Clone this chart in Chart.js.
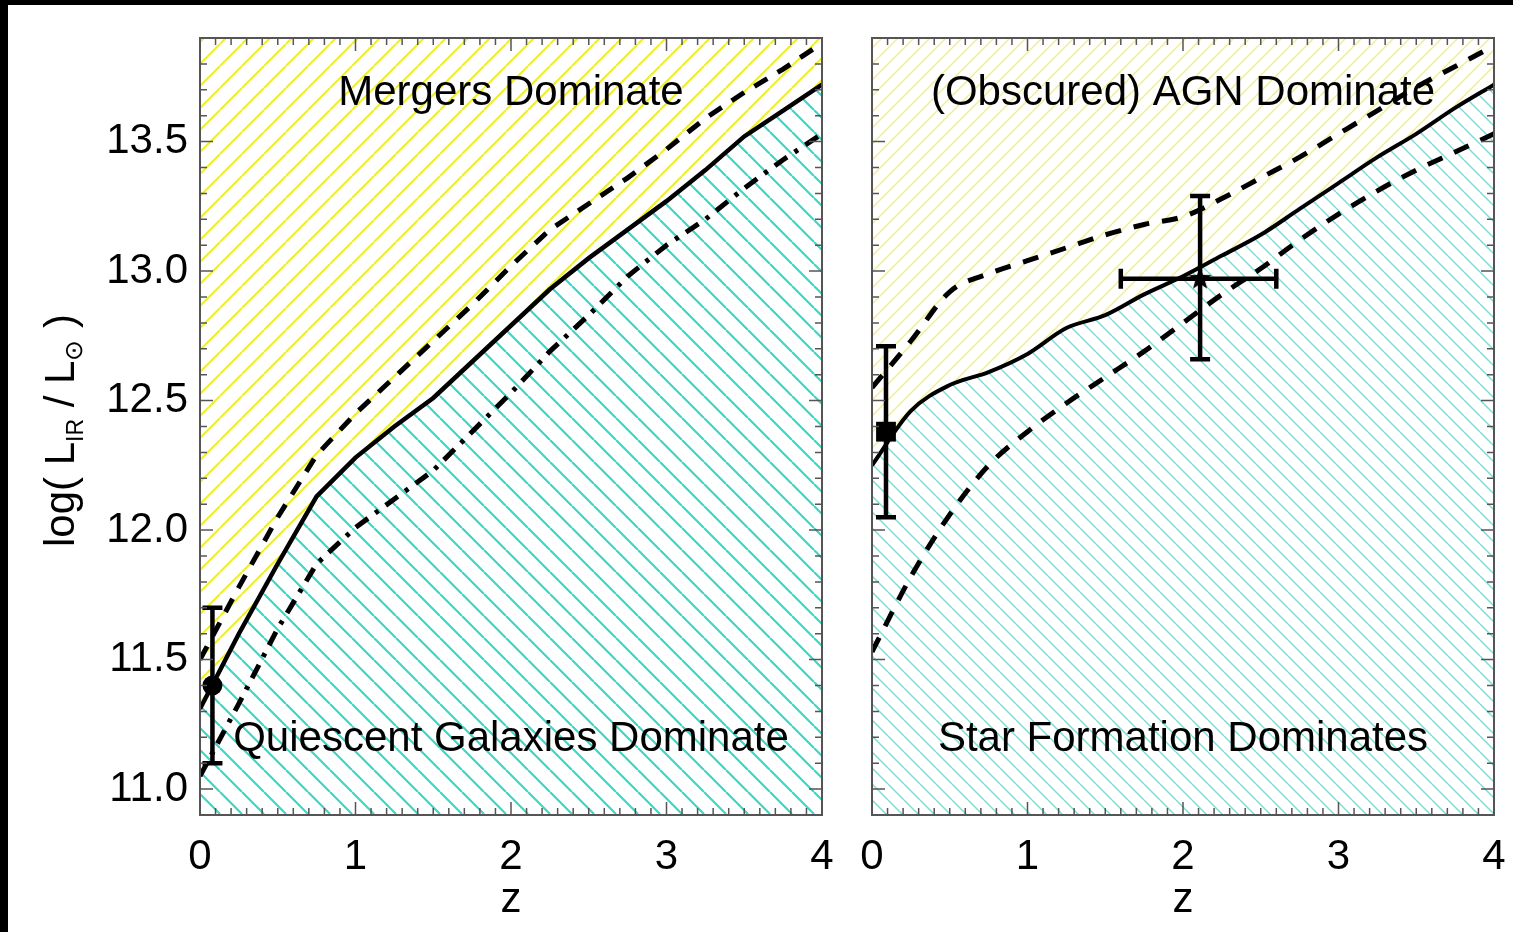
<!DOCTYPE html>
<html>
<head>
<meta charset="utf-8">
<title>IR luminosity thresholds vs redshift</title>
<script src="https://cdn.jsdelivr.net/npm/chart.js@4.4.0/dist/chart.umd.min.js"></script>
<style>
  html, body { margin: 0; padding: 0; background: #fff; overflow: hidden; }
  body { width: 1513px; height: 932px; position: relative; }
  canvas { position: absolute; top: 0; }
  #left-panel { left: 0; }
  #right-panel { left: 840px; }
  .edge { position: absolute; background: #000; z-index: 5; }
  .edge.top { left: 0; top: 0; width: 1513px; height: 5px; }
  .edge.left { left: 0; top: 0; width: 8px; height: 932px; }
</style>
</head>
<body>
<canvas id="left-panel" width="852" height="932"></canvas>
<canvas id="right-panel" width="684" height="932"></canvas>
<div class="edge top"></div>
<div class="edge left"></div>
<script>
const FONT = "'Liberation Sans', Arial, Helvetica, sans-serif";

// redshift grid shared by the model curves
const zGrid = [0, 0.25, 0.5, 0.75, 1, 1.25, 1.5, 1.75, 2, 2.25, 2.5, 2.75, 3, 3.25, 3.5, 3.75, 4];

// left panel: merger / quiescent transition and its scatter
const leftDivide = [11.31, 11.60, 11.87, 12.13, 12.28, 12.40, 12.51, 12.65, 12.79, 12.93, 13.05, 13.16, 13.27, 13.39, 13.52, 13.62, 13.72];
const leftUpper  = [11.50, 11.78, 12.05, 12.29, 12.45, 12.59, 12.73, 12.87, 13.02, 13.16, 13.26, 13.36, 13.47, 13.59, 13.69, 13.78, 13.88];
const leftLower  = [11.05, 11.33, 11.62, 11.87, 12.01, 12.12, 12.23, 12.38, 12.53, 12.69, 12.83, 12.98, 13.10, 13.20, 13.32, 13.43, 13.53];

// right panel: AGN / star formation transition and its scatter
const rightDivide = [12.25, 12.46, 12.56, 12.61, 12.68, 12.78, 12.83, 12.91, 12.98, 13.06, 13.14, 13.24, 13.34, 13.44, 13.53, 13.63, 13.72];
const rightUpper  = [12.55, 12.73, 12.92, 12.99, 13.04, 13.09, 13.14, 13.18, 13.21, 13.28, 13.36, 13.44, 13.53, 13.62, 13.71, 13.79, 13.87];
const rightLower  = [11.53, 11.82, 12.06, 12.25, 12.38, 12.49, 12.59, 12.69, 12.80, 12.91, 13.01, 13.12, 13.22, 13.31, 13.39, 13.46, 13.53];

// observed points
const leftObsZ  = [0.08];
const leftObsL  = [11.40];
const leftObsLo = [11.10];
const leftObsHi = [11.70];

const rightObsZ   = [0.09, 2.11];
const rightObsL   = [12.38, 12.97];
const rightObsLo  = [12.05, 12.66];
const rightObsHi  = [12.71, 13.29];
const rightObsZLo = [null, 1.60];
const rightObsZHi = [null, 2.60];

// axes
const xTicks = [0, 1, 2, 3, 4];
const yTicks = [11.0, 11.5, 12.0, 12.5, 13.0, 13.5];
const X_MIN = 0, X_MAX = 4, Y_MIN = 10.9, Y_MAX = 13.9;

const toXY = (zs, ys) => zs.map((z, i) => ({ x: z, y: ys[i] }));

// diagonal hatch tile, '/' or '\'
function hatch(color, size, width, dir) {
    const c = document.createElement('canvas');
    c.width = size; c.height = size;
    const g = c.getContext('2d');
    g.strokeStyle = color;
    g.lineWidth = width;
    g.beginPath();
    for (let k = -1; k <= 1; k++) {
        if (dir === '/') {
            g.moveTo(k * size, size);
            g.lineTo(k * size + size, 0);
        } else {
            g.moveTo(k * size, 0);
            g.lineTo(k * size + size, size);
        }
    }
    g.stroke();
    return g.createPattern(c, 'repeat');
}

function starImage(r) {
    const c = document.createElement('canvas');
    c.width = c.height = 2 * r + 2;
    const g = c.getContext('2d');
    g.fillStyle = '#000';
    g.beginPath();
    for (let i = 0; i < 10; i++) {
        const rad = i % 2 ? r * 0.42 : r;
        const a = -Math.PI / 2 + i * Math.PI / 5;
        g.lineTo(r + 1 + rad * Math.cos(a), r + 1 + rad * Math.sin(a));
    }
    g.closePath();
    g.fill();
    return c;
}

// frame, inward ticks, error bars and panel labels
function panelPlugin(s) {
    return {
        id: 'panelDecor',
        afterDatasetsDraw(chart) {
            const { ctx, scales: { x, y } } = chart;
            ctx.save();
            ctx.strokeStyle = '#000';
            ctx.lineWidth = 4.5;
            const cap = 10;
            s.obsZ.forEach((z, i) => {
                const px = x.getPixelForValue(z);
                const py = y.getPixelForValue(s.obsL[i]);
                const top = y.getPixelForValue(s.obsHi[i]);
                const bot = y.getPixelForValue(s.obsLo[i]);
                ctx.beginPath();
                ctx.moveTo(px, top); ctx.lineTo(px, bot);
                ctx.moveTo(px - cap, top); ctx.lineTo(px + cap, top);
                ctx.moveTo(px - cap, bot); ctx.lineTo(px + cap, bot);
                if (s.obsZLo && s.obsZLo[i] != null) {
                    const l = x.getPixelForValue(s.obsZLo[i]);
                    const r = x.getPixelForValue(s.obsZHi[i]);
                    ctx.moveTo(l, py); ctx.lineTo(r, py);
                    ctx.moveTo(l, py - cap); ctx.lineTo(l, py + cap);
                    ctx.moveTo(r, py - cap); ctx.lineTo(r, py + cap);
                }
                ctx.stroke();
            });
            ctx.restore();
        },
        afterDraw(chart) {
            const { ctx, chartArea: a, scales: { x, y } } = chart;
            ctx.save();

            // region labels
            ctx.fillStyle = '#000';
            ctx.font = `42px ${FONT}`;
            ctx.textAlign = 'center';
            ctx.textBaseline = 'alphabetic';
            const cx = (a.left + a.right) / 2;
            ctx.fillText(s.topText, cx, a.top + 67);
            ctx.fillText(s.bottomText, cx, a.bottom - 64);

            // frame
            ctx.strokeStyle = '#555';
            ctx.lineWidth = 2;
            ctx.strokeRect(a.left, a.top, a.right - a.left, a.bottom - a.top);

            // inward ticks on all four sides, minor every 0.1
            ctx.lineWidth = 1.5;
            ctx.beginPath();
            for (let i = X_MIN * 10; i <= X_MAX * 10; i++) {
                const px = x.getPixelForValue(i / 10);
                const len = i % 10 === 0 ? 13 : 7;
                ctx.moveTo(px, a.bottom); ctx.lineTo(px, a.bottom - len);
                ctx.moveTo(px, a.top); ctx.lineTo(px, a.top + len);
            }
            for (let i = Math.ceil(Y_MIN * 10); i <= Math.floor(Y_MAX * 10); i++) {
                const py = y.getPixelForValue(i / 10);
                const len = i % 5 === 0 ? 13 : 7;
                ctx.moveTo(a.left, py); ctx.lineTo(a.left + len, py);
                ctx.moveTo(a.right, py); ctx.lineTo(a.right - len, py);
            }
            ctx.stroke();

            // y axis title with subscripts
            if (s.yTitle) {
                const size = 42;
                const parts = [
                    { t: 'log( L', f: size, dy: 0 },
                    { t: 'IR', f: 23, dy: 9 },
                    { t: ' / L', f: size, dy: 0 },
                    { t: '\u2299', f: 25, dy: 8 },
                    { t: ' )', f: size, dy: 0 }
                ];
                ctx.translate(74, (a.top + a.bottom) / 2 + 4);
                ctx.rotate(-Math.PI / 2);
                ctx.textAlign = 'left';
                let total = 0;
                parts.forEach(p => { ctx.font = `${p.f}px ${FONT}`; p.w = ctx.measureText(p.t).width; total += p.w; });
                let tx = -total / 2;
                parts.forEach(p => {
                    ctx.font = `${p.f}px ${FONT}`;
                    ctx.fillText(p.t, tx, p.dy);
                    tx += p.w;
                });
            }
            ctx.restore();
        }
    };
}

function makePanel(id, opt) {
    const lineBase = { pointRadius: 0, fill: false, borderColor: '#000', order: 2 };
    const curve = opt.smooth ? { cubicInterpolationMode: 'monotone' } : { tension: 0 };
    return new Chart(document.getElementById(id), {
        type: 'line',
        data: {
            datasets: [
                // observations on top
                {
                    data: toXY(opt.obsZ, opt.obsL),
                    showLine: false,
                    pointStyle: opt.markers,
                    pointRadius: opt.markerSize,
                    pointBackgroundColor: '#000',
                    pointBorderColor: '#000',
                    pointBorderWidth: 0,
                    order: 0
                },
                Object.assign({ data: toXY(zGrid, opt.divide), borderWidth: opt.solidWidth }, lineBase, curve),
                Object.assign({ data: toXY(zGrid, opt.upper), borderWidth: 5, borderDash: opt.upperDash }, lineBase, curve),
                Object.assign({ data: toXY(zGrid, opt.lower), borderWidth: 5, borderDash: opt.lowerDash }, lineBase, curve),
                // hatched regions either side of the dividing curve
                Object.assign({ data: toXY(zGrid, opt.divide), borderWidth: 0, pointRadius: 0, fill: 'end', backgroundColor: opt.upperHatch, order: 9 }, curve),
                Object.assign({ data: toXY(zGrid, opt.divide), borderWidth: 0, pointRadius: 0, fill: 'start', backgroundColor: opt.lowerHatch, order: 9 }, curve)
            ]
        },
        options: {
            responsive: false,
            animation: false,
            events: [],
            layout: { padding: { left: 0, top: 38, right: opt.padRight, bottom: 0 } },
            plugins: { legend: { display: false }, tooltip: { enabled: false } },
            scales: {
                x: {
                    type: 'linear',
                    min: X_MIN,
                    max: X_MAX,
                    afterBuildTicks: sc => { sc.ticks = xTicks.map(v => ({ value: v })); },
                    afterFit: sc => { sc.height = 117; },
                    grid: { display: false, drawTicks: false },
                    border: { display: false },
                    ticks: {
                        color: '#000',
                        font: { family: FONT, size: 42 },
                        padding: 17,
                        maxRotation: 0,
                        autoSkip: false,
                        callback: v => String(v)
                    },
                    title: {
                        display: true,
                        text: 'z',
                        color: '#000',
                        font: { family: FONT, size: 42 },
                        padding: { top: 0, bottom: 6 }
                    }
                },
                y: {
                    type: 'linear',
                    min: Y_MIN,
                    max: Y_MAX,
                    afterBuildTicks: sc => { sc.ticks = yTicks.map(v => ({ value: v })); },
                    afterFit: sc => { sc.width = opt.yWidth; },
                    grid: { display: false, drawTicks: false },
                    border: { display: false },
                    ticks: {
                        display: opt.yLabels,
                        color: '#000',
                        font: { family: FONT, size: 42 },
                        padding: 12,
                        callback: v => v.toFixed(1)
                    }
                }
            }
        },
        plugins: [panelPlugin(opt)]
    });
}

makePanel('left-panel', {
    divide: leftDivide, upper: leftUpper, lower: leftLower,
    upperDash: [15, 12], lowerDash: [15, 9, 4, 9],
    solidWidth: 4.5,
    smooth: false,
    upperHatch: hatch('#eeee30', 22, 2, '/'),
    lowerHatch: hatch('#3ad8c6', 22, 2.2, '\\'),
    obsZ: leftObsZ, obsL: leftObsL, obsLo: leftObsLo, obsHi: leftObsHi,
    markers: ['circle'], markerSize: [10],
    topText: 'Mergers Dominate',
    bottomText: 'Quiescent Galaxies Dominate',
    yWidth: 200, yLabels: true, padRight: 30, yTitle: true
});

makePanel('right-panel', {
    divide: rightDivide, upper: rightUpper, lower: rightLower,
    upperDash: [16, 13], lowerDash: [16, 13],
    solidWidth: 4,
    smooth: true,
    upperHatch: hatch('#f2ed98', 16, 1.5, '/'),
    lowerHatch: hatch('#7adfd4', 16, 1.5, '\\'),
    obsZ: rightObsZ, obsL: rightObsL, obsLo: rightObsLo, obsHi: rightObsHi,
    obsZLo: rightObsZLo, obsZHi: rightObsZHi,
    markers: ['rect', starImage(12)], markerSize: [14, 12],
    topText: '(Obscured) AGN Dominate',
    bottomText: 'Star Formation Dominates',
    yWidth: 32, yLabels: false, padRight: 30, yTitle: false
});
</script>
</body>
</html>
